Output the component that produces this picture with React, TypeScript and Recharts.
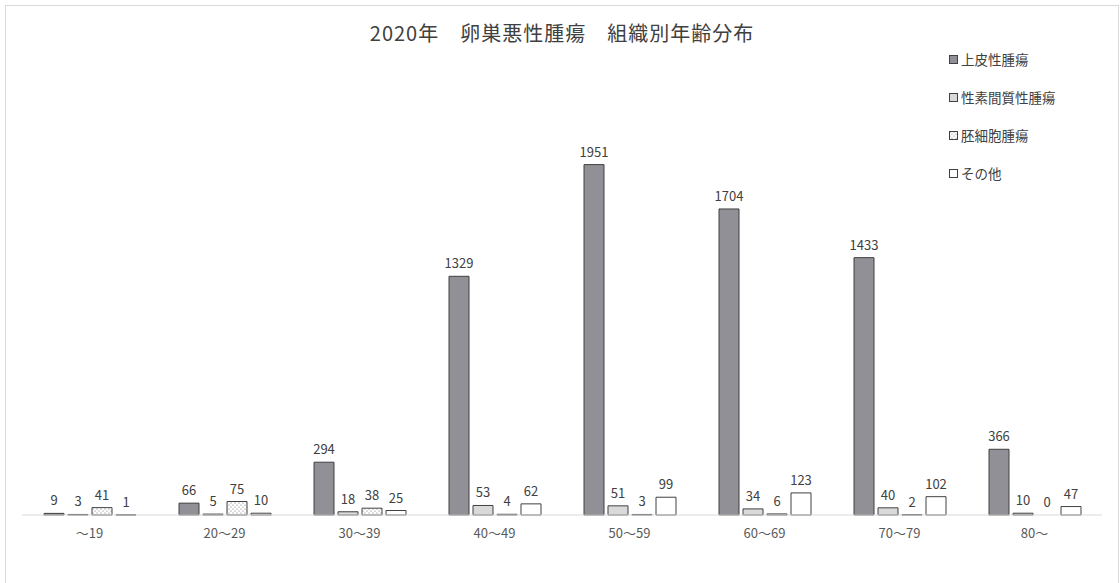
import React from "react";
import { BarChart, Bar, XAxis, YAxis, LabelList, Rectangle } from "recharts";

const ageGroups = ["～19", "20～29", "30～39", "40～49", "50～59", "60～69", "70～79", "80～"];
const epithelial = [9, 66, 294, 1329, 1951, 1704, 1433, 366];
const sexCordStromal = [3, 5, 18, 53, 51, 34, 40, 10];
const germCell = [41, 75, 38, 4, 3, 6, 2, 0];
const others = [1, 10, 25, 62, 99, 123, 102, 47];

const seriesNames = ["上皮性腫瘍", "性素間質性腫瘍", "胚細胞腫瘍", "その他"];

const data = ageGroups.map((name, i) => ({
  name,
  epithelial: epithelial[i],
  stromal: sexCordStromal[i],
  germ: germCell[i],
  others: others[i],
}));

const FONT = "'Noto Sans CJK JP', 'Noto Sans', sans-serif";

const series = [
  { key: "epithelial", name: seriesNames[0], fill: "#909096" },
  { key: "stromal", name: seriesNames[1], fill: "#d9d9d9" },
  { key: "germ", name: seriesNames[2], fill: "url(#dots)" },
  { key: "others", name: seriesNames[3], fill: "#ffffff" },
];

// zero values get a label but no bar outline
const barShape = (key: string) => (props: any) =>
  props.payload && props.payload[key] === 0 ? <g /> : <Rectangle {...props} />;

export default function App() {
  return (
    <div
      style={{
        position: "absolute",
        left: 5,
        top: 5,
        width: 1114,
        height: 590,
        border: "1px solid #d9d9d9",
        boxSizing: "border-box",
        background: "#fff",
        fontFamily: FONT,
      }}
    >
      <svg width="0" height="0" style={{ position: "absolute" }}>
        <defs>
          <pattern id="dots" width="4" height="4" patternUnits="userSpaceOnUse">
            <rect width="4" height="4" fill="#ffffff" />
            <circle cx="1" cy="1" r="0.5" fill="#555555" />
            <circle cx="3" cy="3" r="0.5" fill="#555555" />
          </pattern>
        </defs>
      </svg>
      <div
        style={{
          position: "absolute",
          top: 12,
          left: 0,
          width: 1112,
          textAlign: "center",
          fontSize: 20,
          letterSpacing: 1,
          color: "#404040",
        }}
      >
        2020年　卵巣悪性腫瘍　組織別年齢分布
      </div>
      <BarChart
        width={1112}
        height={577}
        data={data}
        margin={{ top: 60, right: 16, left: 16, bottom: 38 }}
        barSize={20}
        barGap={4}
      >
        <XAxis
          dataKey="name"
          tickLine={false}
          axisLine={{ stroke: "#d9d9d9" }}
          tick={{ fill: "#595959", fontSize: 13, fontFamily: FONT }}
          tickMargin={8}
          height={30}
        />
        <YAxis hide domain={[0, 2500]} />
        {series.map((s) => (
          <Bar
            key={s.key}
            dataKey={s.key}
            name={s.name}
            fill={s.fill}
            stroke="#404040"
            strokeWidth={1}
            minPointSize={0.01}
            shape={barShape(s.key)}
            isAnimationActive={false}
          >
            <LabelList
              dataKey={s.key}
              position="top"
              offset={8}
              style={{ fill: "#404040", fontSize: 13, fontFamily: FONT }}
            />
          </Bar>
        ))}
      </BarChart>
      <div style={{ position: "absolute", left: 943, top: 34, fontSize: 13.5, color: "#404040" }}>
        {series.map((s) => (
          <div key={s.key} style={{ display: "flex", alignItems: "center", height: 38 }}>
            <svg width="9" height="9" style={{ marginRight: 3 }}>
              <rect x="0.5" y="0.5" width="8" height="8" fill={s.fill} stroke="#404040" />
            </svg>
            {s.name}
          </div>
        ))}
      </div>
    </div>
  );
}
